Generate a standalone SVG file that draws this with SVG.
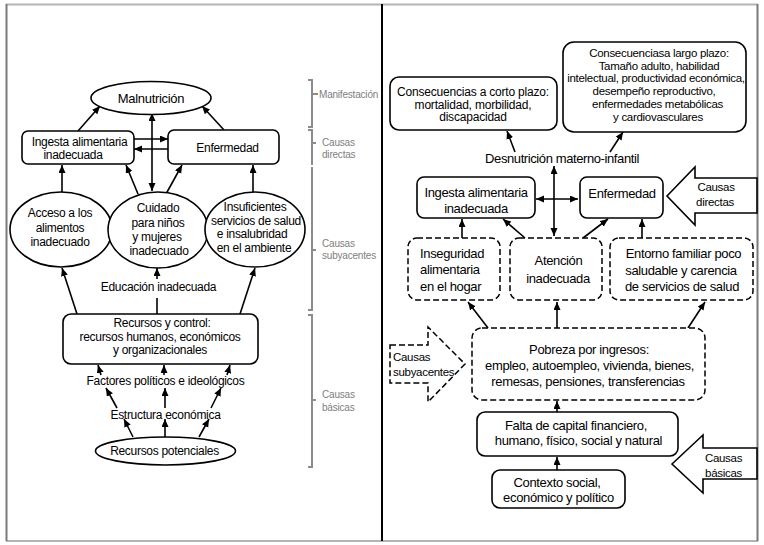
<svg xmlns="http://www.w3.org/2000/svg" width="764" height="545" viewBox="0 0 764 545">
<defs>
<marker id="ah" markerUnits="userSpaceOnUse" markerWidth="9" markerHeight="8" refX="8" refY="3.5" orient="auto-start-reverse">
<path d="M0,0 L8,3.5 L0,7 z" fill="#000"/>
</marker>
<style>
.t{font-family:"Liberation Sans",Arial,sans-serif;fill:#000;text-anchor:middle}
.l{font-size:12px;letter-spacing:-0.3px}
.r{font-size:13px;letter-spacing:-0.35px}
.s{font-size:11.5px;letter-spacing:-0.3px}
.g{font-family:"Liberation Sans",Arial,sans-serif;fill:#808080;font-size:10px;letter-spacing:-0.2px}
.box{fill:#fff;stroke:#000;stroke-width:1.6}
.dash{fill:#fff;stroke:#000;stroke-width:1.5;stroke-dasharray:6 3}
.c{stroke:#000;stroke-width:1.6;fill:none}
.a{stroke:#000;stroke-width:1.6;fill:none;marker-end:url(#ah)}
.d{stroke:#000;stroke-width:1.6;fill:none;marker-end:url(#ah);marker-start:url(#ah)}
.br{stroke:#8c8c8c;stroke-width:2;fill:none}
</style>
</defs>
<rect width="764" height="545" fill="#fff"/>
<g id="frame">
<line x1="6" y1="4.5" x2="758" y2="4.5" stroke="#b4b4b4" stroke-width="2"/>
<line x1="6" y1="541" x2="758" y2="541" stroke="#b4b4b4" stroke-width="2"/>
<line x1="6.5" y1="4" x2="6.5" y2="541" stroke="#7a7a7a" stroke-width="2"/>
<line x1="757.5" y1="4" x2="757.5" y2="541" stroke="#7a7a7a" stroke-width="2"/>
<line x1="382" y1="4" x2="382" y2="541" stroke="#000" stroke-width="2"/>
</g>
<g id="connectors">
<line class="a" x1="78" y1="131" x2="100" y2="106"/>
<line class="a" x1="224" y1="130" x2="202" y2="106"/>
<line class="d" x1="152" y1="191" x2="152" y2="113"/>
<line class="a" x1="134" y1="139" x2="168" y2="139"/>
<line class="a" x1="168" y1="149" x2="134" y2="149"/>
<line class="a" x1="62" y1="192" x2="62" y2="165"/>
<line class="a" x1="253" y1="192" x2="253" y2="165"/>
<line class="a" x1="138" y1="194" x2="126" y2="165"/>
<line class="a" x1="166" y1="194" x2="182" y2="165"/>
<line class="a" x1="77" y1="314" x2="62" y2="268"/>
<line class="a" x1="240" y1="314" x2="255" y2="268"/>
<line class="c" x1="157" y1="314" x2="157" y2="298"/>
<line class="a" x1="157" y1="279" x2="157" y2="268"/>
<line class="a" x1="133" y1="437" x2="124" y2="419"/>
<line class="a" x1="165" y1="437" x2="165" y2="419"/>
<line class="a" x1="199" y1="437" x2="209" y2="419"/>
<line class="a" x1="117" y1="408" x2="106" y2="388"/>
<line class="a" x1="165" y1="408" x2="165" y2="388"/>
<line class="a" x1="211" y1="408" x2="221" y2="388"/>
<line class="a" x1="101" y1="375" x2="98" y2="365"/>
<line class="a" x1="164" y1="375" x2="164" y2="365"/>
<line class="a" x1="227" y1="375" x2="230" y2="365"/>
<line class="a" x1="515" y1="152" x2="507" y2="131"/>
<line class="a" x1="610" y1="152" x2="623" y2="132"/>
<line class="d" x1="554" y1="236" x2="554" y2="166"/>
<line class="d" x1="536" y1="199" x2="578" y2="199"/>
<line class="a" x1="462" y1="238" x2="462" y2="219"/>
<line class="a" x1="525" y1="238" x2="503" y2="219"/>
<line class="a" x1="583" y1="238" x2="608" y2="219"/>
<line class="a" x1="642" y1="238" x2="642" y2="219"/>
<line class="a" x1="488" y1="328" x2="468" y2="302"/>
<line class="a" x1="557" y1="328" x2="557" y2="302"/>
<line class="a" x1="688" y1="328" x2="705" y2="302"/>
<line class="a" x1="557" y1="412" x2="557" y2="401"/>
<line class="a" x1="557" y1="470" x2="557" y2="457"/>
</g>
<g id="malnutricion">
<ellipse class="box" cx="151" cy="98" rx="60" ry="16.5"/>
<text class="t" x="151" y="102.5" font-size="13px" letter-spacing="-0.3px">Malnutrición</text>
</g>
<g id="ingesta-izq">
<rect class="box" x="22" y="131" width="112" height="33" rx="6"/>
<text class="t l" x="79.5" y="145.5">Ingesta alimentaria</text>
<text class="t l" x="73" y="159">inadecuada</text>
</g>
<g id="enfermedad-izq">
<rect class="box" x="168" y="130" width="111" height="34" rx="6"/>
<text class="t l" x="227.5" y="152">Enfermedad</text>
</g>
<g id="acceso">
<ellipse class="box" cx="61" cy="229.5" rx="51" ry="37.5"/>
<text class="t l" x="60" y="217">Acceso a los</text>
<text class="t l" x="60" y="232">alimentos</text>
<text class="t l" x="60" y="246">inadecuado</text>
</g>
<g id="cuidado">
<ellipse class="box" cx="158" cy="230" rx="50" ry="38"/>
<text class="t l" x="158" y="212">Cuidado</text>
<text class="t l" x="158" y="226.5">para niños</text>
<text class="t l" x="157" y="241">y mujeres</text>
<text class="t l" x="159" y="255">inadecuado</text>
</g>
<g id="insuficientes">
<ellipse class="box" cx="255" cy="229.5" rx="50" ry="37.5"/>
<text class="t l" x="255" y="211">Insuficientes</text>
<text class="t l" x="256" y="224.5">servicios de salud</text>
<text class="t l" x="252" y="238">e insalubridad</text>
<text class="t l" x="254" y="252">en el ambiente</text>
</g>
<g id="educacion">
<text class="t l" x="158.5" y="291">Educación inadecuada</text>
</g>
<g id="recursos-control">
<rect class="box" x="63" y="314" width="195" height="50" rx="8"/>
<text class="t l" x="162" y="327">Recursos y control:</text>
<text class="t l" x="160" y="340.5">recursos humanos, económicos</text>
<text class="t l" x="160" y="354">y organizacionales</text>
</g>
<g id="factores">
<text class="t l" x="165.5" y="385">Factores políticos e ideológicos</text>
</g>
<g id="estructura">
<text class="t l" x="165.5" y="419">Estructura económica</text>
</g>
<g id="recursos-potenciales">
<ellipse class="box" cx="165.5" cy="451" rx="70" ry="14"/>
<text class="t l" x="164.5" y="455">Recursos potenciales</text>
</g>
<g id="brackets">
<path class="br" d="M308,80 H312 V127 H308 M312,94 H318"/>
<path class="br" d="M308,130 H312 V165 M312,143 H316"/>
<path class="br" d="M312,167 V310 H308 M312,250 H316"/>
<path class="br" d="M308,315 H312 V467 H308 M312,400 H316"/>
<text class="g" x="319" y="97.5">Manifestación</text>
<text class="g" x="322" y="145.5">Causas</text>
<text class="g" x="322" y="158">directas</text>
<text class="g" x="322" y="246.5">Causas</text>
<text class="g" x="322" y="259">subyacentes</text>
<text class="g" x="322" y="397.5">Causas</text>
<text class="g" x="322" y="410.5">básicas</text>
</g>
<g id="corto-plazo">
<rect class="box" x="390" y="77" width="167" height="53" rx="9"/>
<text class="t" x="473" y="96" font-size="12px" letter-spacing="-0.2px">Consecuencias a corto plazo:</text>
<text class="t" x="473" y="108.5" font-size="12px" letter-spacing="-0.2px">mortalidad, morbilidad,</text>
<text class="t" x="473" y="121" font-size="12px" letter-spacing="-0.2px">discapacidad</text>
</g>
<g id="largo-plazo">
<rect class="box" x="563" y="42" width="183" height="90" rx="11"/>
<text class="t" x="659" y="57" font-size="11.5px" letter-spacing="-0.3px">Consecuenciasa largo plazo:</text>
<text class="t" x="659" y="69.5" font-size="11.5px" letter-spacing="-0.3px">Tamaño adulto, habilidad</text>
<text class="t" x="656" y="82" font-size="11.5px" letter-spacing="-0.3px">intelectual, productividad económica,</text>
<text class="t" x="654" y="95" font-size="11.5px" letter-spacing="-0.3px">desempeño reproductivo,</text>
<text class="t" x="657.5" y="108" font-size="11.5px" letter-spacing="-0.3px">enfermedades metabólicas</text>
<text class="t" x="658" y="121" font-size="11.5px" letter-spacing="-0.3px">y cardiovasculares</text>
</g>
<g id="desnutricion">
<text class="t" x="562" y="162.5" font-size="13px" letter-spacing="-0.4px">Desnutrición materno-infantil</text>
</g>
<g id="ingesta-der">
<rect class="box" x="417" y="177" width="118" height="41" rx="7"/>
<text class="t r" x="476" y="196.5">Ingesta alimentaria</text>
<text class="t r" x="476" y="212.5">inadecuada</text>
</g>
<g id="enfermedad-der">
<rect class="box" x="580" y="177" width="83" height="41" rx="7"/>
<text class="t r" x="622" y="197.5">Enfermedad</text>
</g>
<g id="causas-directas">
<polygon class="box" points="667,196 695,167 695,178 757,178 757,213 695,213 695,225"/>
<text class="t s" x="716" y="191">Causas</text>
<text class="t s" x="715" y="206">directas</text>
</g>
<g id="inseguridad">
<rect class="dash" x="408" y="238" width="92" height="62" rx="9"/>
<text class="t r" x="420" y="257.5" style="text-anchor:start">Inseguridad</text>
<text class="t r" x="420" y="274" style="text-anchor:start">alimentaria</text>
<text class="t r" x="420" y="291" style="text-anchor:start">en el hogar</text>
</g>
<g id="atencion">
<rect class="dash" x="510" y="238" width="92" height="62" rx="9"/>
<text class="t r" x="558.5" y="264.5">Atención</text>
<text class="t r" x="558" y="282.5">inadecuada</text>
</g>
<g id="entorno">
<rect class="dash" x="610" y="238" width="143" height="62" rx="9"/>
<text class="t r" x="683.5" y="257.5">Entorno familiar poco</text>
<text class="t r" x="681" y="274.5">saludable y carencia</text>
<text class="t r" x="682" y="291">de servicios de salud</text>
</g>
<g id="causas-subyacentes">
<polygon class="dash" points="390,345 428,345 428,327 465,364 428,402 428,383 390,383"/>
<text class="t s" x="393" y="361" style="text-anchor:start">Causas</text>
<text class="t s" x="393" y="376" style="text-anchor:start">subyacentes</text>
</g>
<g id="pobreza">
<rect class="dash" x="472" y="328" width="233" height="72" rx="10"/>
<text class="t r" x="589" y="353.5">Pobreza por ingresos:</text>
<text class="t r" x="589.5" y="369.5">empleo, autoempleo, vivienda, bienes,</text>
<text class="t r" x="588" y="385.5">remesas, pensiones, transferencias</text>
</g>
<g id="falta-capital">
<rect class="box" x="477" y="412" width="201" height="44" rx="8"/>
<text class="t r" x="576" y="429.5">Falta de capital financiero,</text>
<text class="t r" x="578.5" y="444.5">humano, físico, social y natural</text>
</g>
<g id="contexto">
<rect class="box" x="492" y="470" width="133" height="38" rx="8"/>
<text class="t r" x="557" y="486.5">Contexto social,</text>
<text class="t r" x="558.5" y="501.5">económico y político</text>
</g>
<g id="causas-basicas">
<polygon class="box" points="672,464 703,435 703,448 757,448 757,479 703,479 703,493"/>
<text class="t s" x="723.5" y="462">Causas</text>
<text class="t s" x="723.5" y="477">básicas</text>
</g>
</svg>
